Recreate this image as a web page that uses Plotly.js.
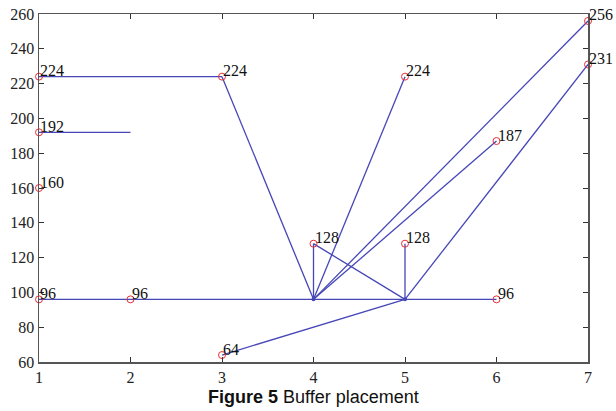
<!DOCTYPE html>
<html>
<head>
<meta charset="utf-8">
<script src="https://cdn.plot.ly/plotly-3.0.1.min.js"></script>
<style>
html,body{margin:0;padding:0;background:#fff;}
#chart{width:616px;height:411px;}
</style>
</head>
<body>
<div id="chart"></div>
<script>
// Node positions (buffer placement)
const nodeX = [1, 1, 1, 1, 2, 3, 3, 4, 5, 5, 6, 6, 7, 7];
const nodeY = [224, 192, 160, 96, 96, 224, 64, 128, 224, 128, 187, 96, 256, 231];
const nodeLabels = ["224", "192", "160", "96", "96", "224", "64", "128", "224", "128", "187", "96", "256", "231"];

// Junction points (no circle)
const junctionX = [4, 5];
const junctionY = [96, 96];

// Edges: [x0, y0, x1, y1]
const edgeX0 = [1, 1, 1, 3, 5, 4, 4, 4, 4, 5, 5, 5];
const edgeY0 = [224, 192, 96, 224, 224, 128, 128, 96, 96, 128, 96, 96];
const edgeX1 = [3, 2, 6, 4, 4, 4, 5, 7, 6, 5, 7, 3];
const edgeY1 = [224, 192, 96, 96, 96, 96, 96, 256, 187, 96, 231, 64];

const xTicks = [1, 2, 3, 4, 5, 6, 7];
const yTicks = [60, 80, 100, 120, 140, 160, 180, 200, 220, 240, 260];

const lx = [], ly = [];
for (let i = 0; i < edgeX0.length; i++) {
  lx.push(edgeX0[i], edgeX1[i], null);
  ly.push(edgeY0[i], edgeY1[i], null);
}

const serif = "'Liberation Serif', 'Times New Roman', serif";
const lineColor = "#4646b8";

const traces = [
  {x: lx, y: ly, mode: "lines", type: "scatter", line: {color: lineColor, width: 1.3}, hoverinfo: "skip", cliponaxis: false},
  {x: junctionX, y: junctionY, mode: "markers", type: "scatter", marker: {color: lineColor, size: 4}, hoverinfo: "skip", cliponaxis: false},
  {x: nodeX, y: nodeY, mode: "markers", type: "scatter", cliponaxis: false,
   marker: {symbol: "circle-open", color: "#e8303a", size: 7, line: {width: 1}}, hoverinfo: "skip"}
];

const annotations = nodeX.map((x, i) => ({
  x: x, y: nodeY[i], xref: "x", yref: "y", text: nodeLabels[i], showarrow: false,
  xanchor: "left", yanchor: "middle", xshift: -1, yshift: 6,
  font: {family: serif, size: 16, color: "#111"}
}));
annotations.push({
  xref: "paper", yref: "paper", x: 0.5, y: -0.1, xanchor: "center", yanchor: "middle",
  showarrow: false,
  text: "<b>Figure 5</b> Buffer placement",
  font: {family: "'Liberation Sans Narrow', 'Liberation Sans', Arial, sans-serif", size: 18, color: "#111"}
});

const layout = {
  width: 616, height: 411,
  margin: {l: 39, r: 28, t: 14, b: 49},
  paper_bgcolor: "#fff", plot_bgcolor: "#fff",
  showlegend: false,
  xaxis: {
    range: [1, 7], tickvals: xTicks, ticks: "inside", ticklen: 5, tickcolor: "#333",
    showline: true, linecolor: "#555", linewidth: 1.5, mirror: "ticks", showgrid: false, zeroline: false,
    tickfont: {family: serif, size: 16, color: "#222"}
  },
  yaxis: {
    range: [60, 260], tickvals: yTicks, ticks: "inside", ticklen: 5, tickcolor: "#333",
    showline: true, linecolor: "#555", linewidth: 1.5, mirror: "ticks", showgrid: false, zeroline: false,
    tickfont: {family: serif, size: 16, color: "#222"}
  },
  annotations: annotations
};

Plotly.newPlot("chart", traces, layout, {displayModeBar: false, staticPlot: true});
</script>
</body>
</html>
